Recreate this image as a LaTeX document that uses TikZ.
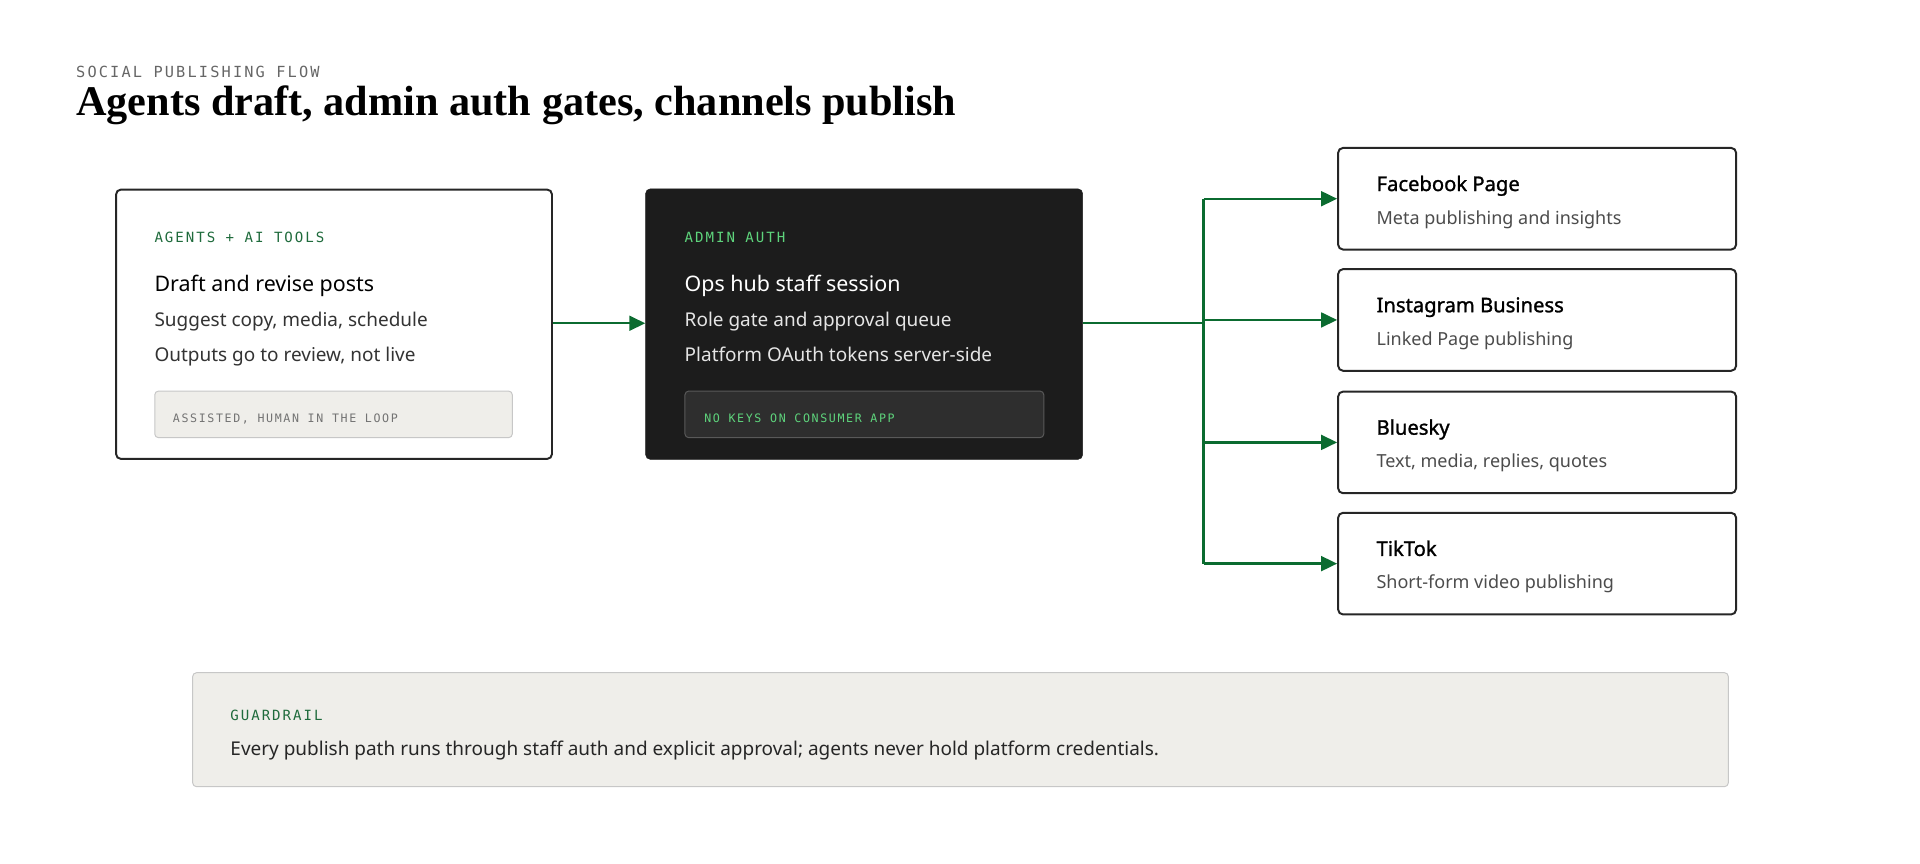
\documentclass[tikz,border=0pt]{standalone}
\usepackage{fontspec}
\setmainfont{Noto Sans}
\newfontfamily\titlefont{Liberation Serif}
\newfontfamily\headfont{Noto Sans}[FakeBold=1.3]
\newfontfamily\capsfont{DejaVu Sans Mono}[LetterSpace=14]
\usetikzlibrary{arrows.meta, positioning, calc}
\definecolor{flowgreen}{HTML}{0B6B30}
\definecolor{tagdark}{HTML}{1F6B3C}
\definecolor{taglight}{HTML}{5ED47C}
\definecolor{inkbox}{HTML}{1C1C1C}
\definecolor{paper}{HTML}{EFEEEA}
\tikzset{%
	card/.style={draw=black!85, line width=1.6pt, rounded corners=4pt, fill=white},
	darkcard/.style={draw=inkbox, rounded corners=4pt, fill=inkbox},
	chip/.style={draw=black!22, line width=0.8pt, rounded corners=3pt, fill=paper},
	darkchip/.style={draw=black!65, line width=0.8pt, rounded corners=3pt, fill=black!82},
	tag/.style={anchor=base west, inner sep=0pt, font=\capsfont\fontsize{11.5}{14}\selectfont},
	line/.style={anchor=base west, inner sep=0pt, font=\fontsize{15.5}{18}\selectfont},
	head/.style={anchor=base west, inner sep=0pt, font=\headfont\fontsize{16.5}{20}\selectfont},
	sub/.style={anchor=base west, inner sep=0pt, font=\fontsize{14.7}{17}\selectfont, text=black!70},
	flow/.style={-{Triangle[length=13pt, width=12pt]}, line width=2pt, draw=flowgreen},
	trunk/.style={line width=2pt, draw=flowgreen}
}
\begin{document}
\begin{tikzpicture}[x=1pt, y=-1pt]
	\useasboundingbox (0,0) rectangle (1568,705.6);

	% heading
	\node[tag, text=black!60, font=\capsfont\fontsize{12.5}{15}\selectfont] (kicker) at (62,63) {SOCIAL PUBLISHING FLOW};
	\node[anchor=base west, inner sep=0pt, font=\titlefont\bfseries\fontsize{34.5}{40}\selectfont] (title) at (62,94) {Agents draft, admin auth gates, channels publish};

	% agents
	\node[card, minimum width=356pt, minimum height=220pt, anchor=north west] (agents) at (94,154) {};
	\node[tag, text=tagdark] at (126,198) {AGENTS + AI TOOLS};
	\node[line, font=\fontsize{17.5}{20}\selectfont] at (126,238) {Draft and revise posts};
	\node[line, text=black!80] at (126,267) {Suggest copy, media, schedule};
	\node[line, text=black!80] at (126,295) {Outputs go to review, not live};
	\node[chip, minimum width=292pt, minimum height=38pt, anchor=north west] (assist) at (126,319) {};
	\node[tag, text=black!55, font=\capsfont\fontsize{9.5}{11}\selectfont] at (141,345) {ASSISTED, HUMAN IN THE LOOP};

	% admin
	\node[darkcard, minimum width=357pt, minimum height=221pt, anchor=north west] (admin) at (527,154) {};
	\node[tag, text=taglight] at (559,198) {ADMIN AUTH};
	\node[line, text=white, font=\fontsize{17.5}{20}\selectfont] at (559,238) {Ops hub staff session};
	\node[line, text=white!90!black] at (559,267) {Role gate and approval queue};
	\node[line, text=white!90!black] at (559,295) {Platform OAuth tokens server-side};
	\node[darkchip, minimum width=293pt, minimum height=38pt, anchor=north west] (nokeys) at (559,319) {};
	\node[tag, text=taglight, font=\capsfont\fontsize{9.5}{11}\selectfont] at (575,345) {NO KEYS ON CONSUMER APP};

	% channels
	\foreach \name/\top/\title/\desc in {fb/120/Facebook Page/Meta publishing and insights,
		ig/219/Instagram Business/Linked Page publishing,
		bsky/319/Bluesky/{Text, media, replies, quotes},
		tt/418/TikTok/Short-form video publishing}{
		\node[card, minimum width=325pt, minimum height=83pt, anchor=north west] (\name) at (1092,\top) {};
		\node[head] at (1124,\top+36) {\title};
		\node[sub] at (1124,\top+63) {\desc};
	}

	% guardrail
	\node[chip, minimum width=1254pt, minimum height=93pt, anchor=north west] (guard) at (157,549) {};
	\node[tag, text=tagdark] at (188,588) {GUARDRAIL};
	\node[line, text=black!85] at (188,617) {Every publish path runs through staff auth and explicit approval; agents never hold platform credentials.};

	% connectors
	\coordinate (split) at (983,264);
	\draw[flow] (agents.east |- 0,264) -- (admin.west |- 0,264);
	\draw[trunk] (admin.east |- split) -- (split);
	\draw[trunk] (split |- fb.west) -- (split |- tt.west);
	\foreach \name in {fb, ig, bsky, tt}
		\draw[flow] (split |- \name.west) -- (\name.west);
\end{tikzpicture}
\end{document}
